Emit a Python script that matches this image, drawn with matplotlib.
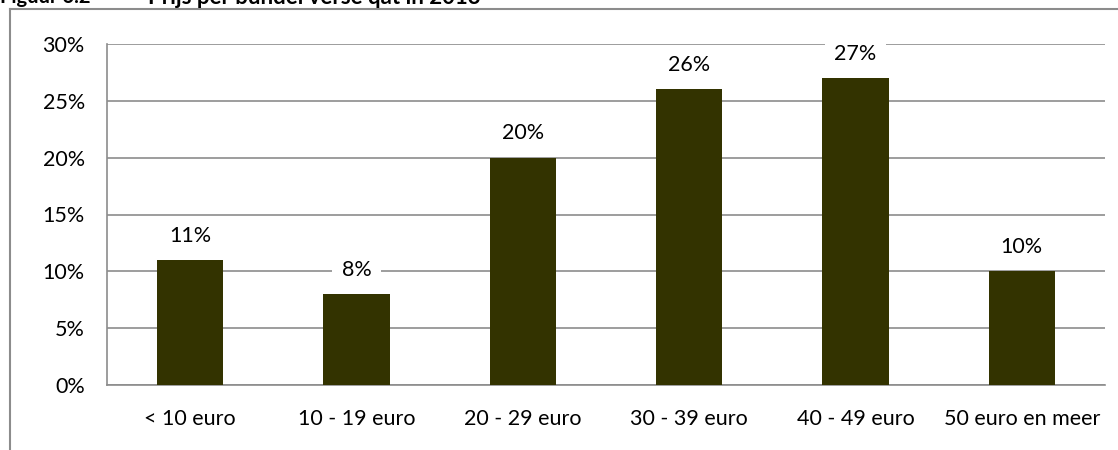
import matplotlib
matplotlib.use("Agg")
import matplotlib.pyplot as plt
from matplotlib.lines import Line2D
from matplotlib.ticker import FuncFormatter

categories = ["< 10 euro", "10 - 19 euro", "20 - 29 euro", "30 - 39 euro", "40 - 49 euro", "50 euro en meer"]
values = [11, 8, 20, 26, 27, 10]
yticks = [0, 5, 10, 15, 20, 25, 30]

plt.rcParams['font.family'] = ['Lato', 'DejaVu Sans']

W, H = 1118, 450
FS = 15.5
fig = plt.figure(figsize=(W / 100, H / 100), dpi=100)
ax = fig.add_axes([107 / W, 1 - 385 / H, (1105 - 107) / W, (385 - 44) / H])

x = list(range(len(categories)))
ax.bar(x, values, width=0.4, color="#333300", zorder=3)
ax.set_xlim(-0.5, len(categories) - 0.5)
ax.set_ylim(0, 30)
ax.set_yticks(yticks)
ax.yaxis.set_major_formatter(FuncFormatter(lambda v, p: f"{int(v)}%"))
ax.set_xticks(x)
ax.set_xticklabels(categories)
ax.tick_params(axis="both", length=0, labelsize=FS, colors="black")
ax.tick_params(axis="x", pad=17)
ax.tick_params(axis="y", pad=16)
ax.grid(axis="y", color="#8c8c8c", linewidth=1.2, zorder=0)
for s in ["top", "right"]:
    ax.spines[s].set_visible(False)
for s in ["left", "bottom"]:
    ax.spines[s].set_color("#8c8c8c")
    ax.spines[s].set_linewidth(1.2)

for xi, v in zip(x, values):
    ax.annotate(f"{v}%", (xi, v), xytext=(0, 17.5), textcoords="offset points",
                ha="center", va="center", fontsize=FS, zorder=5,
                bbox=dict(boxstyle="square,pad=0.45", fc="white", ec="none"))

# outer chart border (clipped)
fig.add_artist(Line2D([10 / W, 10 / W], [0, 1 - 9 / H], color="#8c8c8c", lw=1.5))
fig.add_artist(Line2D([10 / W, 1], [1 - 9 / H, 1 - 9 / H], color="#8c8c8c", lw=1.5))

fig.text(0, 1 + 3 / H, "Figuur 6.2", fontsize=14.5, fontweight="bold", ha="left", va="center")
fig.text(148 / W, 1 + 3 / H, "Prijs per bundel verse qat in 2013", fontsize=16,
         fontweight="bold", ha="left", va="center")

fig.savefig("out.png", dpi=100)
